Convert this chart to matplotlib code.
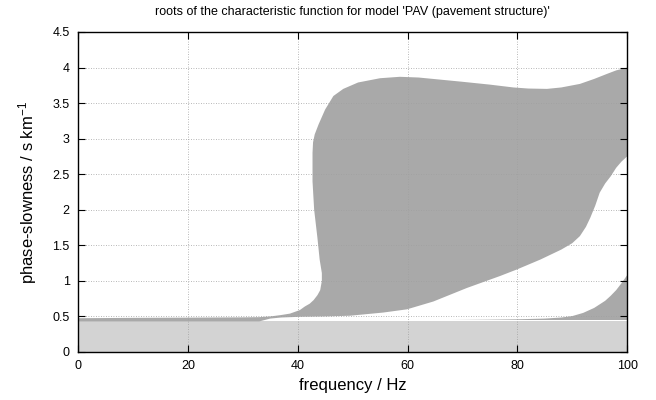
import matplotlib
matplotlib.use("Agg")
import matplotlib.pyplot as plt

plt.rcParams['font.family'] = ['Liberation Sans', 'DejaVu Sans']
plt.rcParams['mathtext.fontset'] = 'custom'
plt.rcParams['mathtext.rm'] = 'Liberation Sans'
plt.rcParams['mathtext.it'] = 'Liberation Sans:italic'

# lowest root band (light gray) - constant slowness below this value
low_top = 0.435

# main region of roots: upper boundary (frequency, slowness)
upper_f = [0, 6, 10, 20, 30, 33, 35, 37, 38.6, 40.4, 41.3, 42.2, 42.9, 43.6,
           44.1, 44.4, 44.4, 44.0, 43.6, 43.0, 42.7, 42.7, 42.8, 43.1, 43.8,
           45.0, 46.5, 48.3, 51, 55, 58.6, 62, 66, 70, 75, 79.3, 82, 85.4, 88,
           91.4, 94, 96.3, 98, 100]
upper_s = [0.475, 0.478, 0.48, 0.483, 0.487, 0.49, 0.50, 0.52, 0.54, 0.59,
           0.64, 0.68, 0.73, 0.80, 0.87, 1.0, 1.11, 1.3, 1.6, 2.0, 2.4, 2.8,
           2.95, 3.06, 3.2, 3.41, 3.60, 3.70, 3.79, 3.85, 3.87, 3.86, 3.83,
           3.80, 3.76, 3.72, 3.705, 3.70, 3.72, 3.77, 3.84, 3.91, 3.96, 4.0]
# main region: lower boundary
lower_f = [0, 33, 35, 37, 40.4, 45, 49.5, 55.6, 59.9, 64.7, 70.8, 76.9, 79.9,
           84.2, 88, 90, 91.4, 92.5, 93.3, 94.2, 95, 96, 97, 98, 99, 100]
lower_s = [0.43, 0.43, 0.47, 0.485, 0.495, 0.50, 0.51, 0.555, 0.60, 0.71, 0.90,
           1.07, 1.16, 1.30, 1.44, 1.53, 1.63, 1.76, 1.89, 2.06, 2.24, 2.37,
           2.47, 2.59, 2.68, 2.75]

# second region (high frequency, low slowness)
second_f = [68, 75, 80, 85, 88, 90, 92, 94, 96, 97, 98, 99, 100]
second_top = [0.45, 0.455, 0.46, 0.47, 0.485, 0.505, 0.55, 0.62, 0.72, 0.79,
              0.87, 0.97, 1.08]
second_bottom = 0.45

fig = plt.figure(figsize=(6.56, 4.0), dpi=100)
ax = fig.add_axes([0.119, 0.12, 0.837, 0.80])

ax.fill_between([0, 100], 0, low_top, color='#d3d3d3', lw=0, zorder=1)
ax.grid(True, color='#a0a0a0', linestyle=(0, (1, 2)), linewidth=0.6)
ax.set_axisbelow(False)
for line in ax.get_xgridlines() + ax.get_ygridlines():
    line.set_zorder(1.5)

ax.fill(upper_f + lower_f[::-1], upper_s + lower_s[::-1],
        color='#a9a9a9', lw=0, zorder=2)
ax.fill(second_f + second_f[::-1],
        second_top + [second_bottom] * len(second_f),
        color='#a9a9a9', lw=0, zorder=2)

ax.set_xlim(0, 100)
ax.set_ylim(0, 4.5)
ax.set_xticks([0, 20, 40, 60, 80, 100])
ax.set_yticks([0, 0.5, 1, 1.5, 2, 2.5, 3, 3.5, 4, 4.5])
ax.set_yticklabels(['0', '0.5', '1', '1.5', '2', '2.5', '3', '3.5', '4', '4.5'])
ax.tick_params(direction='in', top=True, right=True, length=5, width=0.8,
               labelsize=9, pad=6)
for sp in ax.spines.values():
    sp.set_linewidth(1.0)
    sp.set_zorder(3)

ax.set_xlabel('frequency / Hz', fontsize=12, labelpad=4)
ax.set_ylabel('phase-slowness / s km$^{-1}$', fontsize=12, labelpad=10)
ax.set_title("roots of the characteristic function for model 'PAV (pavement structure)'",
             fontsize=9, pad=12)

fig.savefig('out.png', dpi=100)
